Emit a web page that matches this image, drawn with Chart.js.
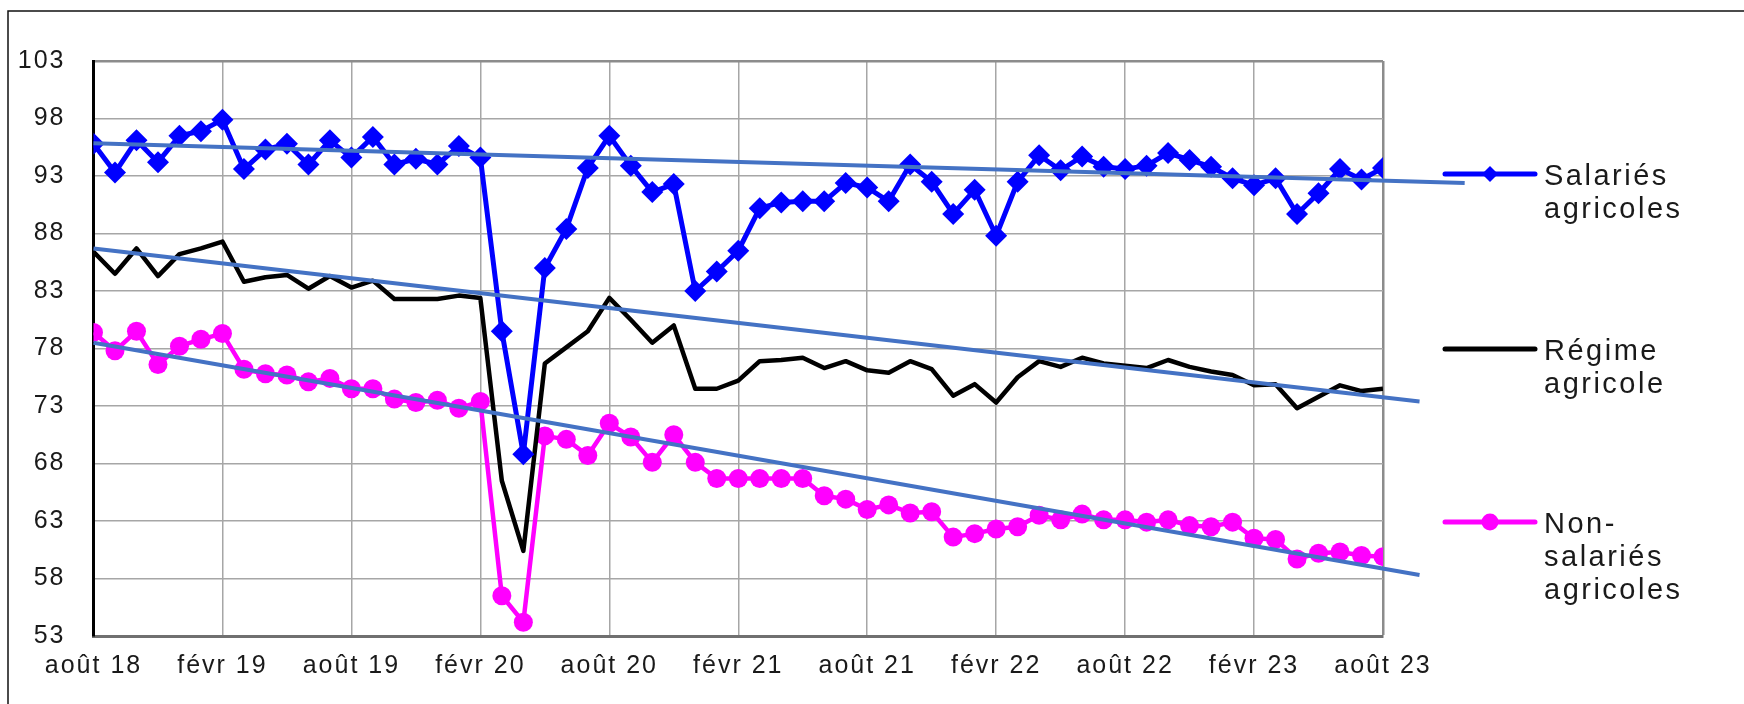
<!DOCTYPE html>
<html>
<head>
<meta charset="utf-8">
<script src="https://cdn.jsdelivr.net/npm/chart.js@4/dist/chart.umd.min.js"></script>
<style>
html,body{margin:0;padding:0;background:#fff}
#boite{width:1744px;height:704px;position:relative}
</style>
</head>
<body>
<div id="boite"><canvas id="chartEmploi"></canvas></div>
<script>
// mois d'août 2018 à août 2023
const nomsMois=['janv','févr','mars','avr','mai','juin','juil','août','sept','oct','nov','déc']
const categories=[]
for(let k=0;k<61;k++){const m=(7+k)%12, a=18+Math.floor((7+k)/12); categories.push(nomsMois[m]+' '+a)}

const salaries=[95.8,93.3,96.1,94.2,96.5,96.9,97.9,93.6,95.3,95.8,
94.0,96.1,94.6,96.4,94.0,94.5,94.0,95.6,94.6,79.5,
68.8,85.0,88.4,93.7,96.5,93.9,91.6,92.3,83.0,84.7,
86.5,90.2,90.7,90.8,90.8,92.4,92.0,90.8,94.0,92.5,
89.7,91.8,87.8,92.5,94.8,93.5,94.7,93.8,93.6,93.9,
95.0,94.4,93.8,92.8,92.2,92.8,89.7,91.5,93.6,92.7,93.7]

const regime=[86.4,84.5,86.7,84.3,86.2,86.7,87.3,83.8,84.2,84.4,
83.2,84.3,83.3,83.9,82.3,82.3,82.3,82.6,82.4,66.5,
60.4,76.7,78.1,79.5,82.4,80.5,78.5,80.0,74.5,74.5,
75.2,76.9,77.0,77.2,76.3,76.9,76.1,75.9,76.9,76.2,
73.9,74.9,73.3,75.5,76.9,76.4,77.2,76.7,76.5,76.3,
77.0,76.4,76.0,75.7,74.8,74.9,72.8,73.8,74.8,74.3,74.5]

const nonSalaries=[79.4,77.8,79.5,76.6,78.2,78.8,79.3,76.2,75.8,75.7,
75.1,75.4,74.5,74.5,73.6,73.3,73.5,72.8,73.4,56.5,
54.2,70.4,70.1,68.7,71.5,70.3,68.1,70.5,68.1,66.7,
66.7,66.7,66.7,66.7,65.2,64.9,64.0,64.4,63.7,63.8,
61.6,61.9,62.3,62.5,63.5,63.1,63.6,63.1,63.1,62.9,
63.1,62.6,62.5,62.9,61.5,61.4,59.7,60.2,60.3,60.0,59.9]

// tendances linéaires (début, fin)
const tendSalX=[0,63.8], tendSal=[95.85,92.4]
const tendRegX=[0,61.7], tendReg=[86.7,73.4]
const tendNonX=[0,61.7], tendNon=[78.5,58.3]

const legendes=[['Salariés','agricoles'],['Régime','agricole'],['Non-','salariés','agricoles']]

const pts=(v)=>v.map((y,i)=>({x:i,y:y}))
const seg=(xs,ys)=>xs.map((x,i)=>({x:x,y:ys[i]}))
const POLICE='"Liberation Sans", Arial, sans-serif'

const espacement={
  id:'espacement',
  beforeLayout(chart){chart.ctx.letterSpacing='2px'},
  beforeDraw(chart){
    const c=chart.ctx
    c.save()
    c.fillStyle='#fff'; c.fillRect(0,0,chart.width,chart.height)
    c.strokeStyle='#111'; c.lineWidth=1.5
    c.strokeRect(8,11,2000,2000)
    c.restore()
    c.letterSpacing='2px'
  }
}

const legendeDroite={
  id:'legendeDroite',
  afterDraw(chart){
    const c=chart.ctx, a=chart.chartArea
    const x0=a.right+62, x1=a.right+152, xm=a.right+107, xt=a.right+161
    const lignes=[174,349,522]
    const couleurs=['#0000FF','#000000','#FF00FF']
    c.save()
    lignes.forEach((y,k)=>{
      c.strokeStyle=couleurs[k]; c.lineWidth=5; c.lineCap='round'
      c.beginPath(); c.moveTo(x0,y); c.lineTo(x1,y); c.stroke()
      c.fillStyle=couleurs[k]
      if(k===0){c.beginPath();c.moveTo(xm,y-8);c.lineTo(xm+8,y);c.lineTo(xm,y+8);c.lineTo(xm-8,y);c.closePath();c.fill()}
      if(k===2){c.beginPath();c.arc(xm,y,8.5,0,Math.PI*2);c.fill()}
      c.fillStyle='#1a1a1a'; c.font='29px '+POLICE; c.letterSpacing='2.5px'
      c.textBaseline='alphabetic'; c.textAlign='left'
      legendes[k].forEach((t,j)=>c.fillText(t,xt,y+11+j*33))
    })
    c.restore()
  }
}

const chartEmploi=new Chart(document.getElementById('chartEmploi'),{
  type:'line',
  data:{
    datasets:[
      {label:'tendance salariés',data:seg(tendSalX,tendSal),borderColor:'#4472C4',borderWidth:4,pointRadius:0,clip:false,order:0},
      {label:'tendance régime',data:seg(tendRegX,tendReg),borderColor:'#4472C4',borderWidth:4,pointRadius:0,clip:false,order:0},
      {label:'tendance non-salariés',data:seg(tendNonX,tendNon),borderColor:'#4472C4',borderWidth:4,pointRadius:0,clip:false,order:0},
      {label:'Salariés agricoles',data:pts(salaries),borderColor:'#0000FF',backgroundColor:'#0000FF',borderWidth:5,
        pointStyle:'rectRot',pointRadius:11,pointBorderWidth:0,borderJoinStyle:'round',order:1},
      {label:'Régime agricole',data:pts(regime),borderColor:'#000000',borderWidth:4.5,pointRadius:0,borderJoinStyle:'round',order:2},
      {label:'Non-salariés agricoles',data:pts(nonSalaries),borderColor:'#FF00FF',backgroundColor:'#FF00FF',borderWidth:4.5,
        pointStyle:'circle',pointRadius:9.5,pointBorderWidth:0,borderJoinStyle:'round',order:3}
    ]
  },
  options:{
    responsive:true,maintainAspectRatio:false,animation:false,
    layout:{padding:{left:0,top:61,right:361,bottom:0}},
    plugins:{legend:{display:false},tooltip:{enabled:false}},
    elements:{line:{tension:0}},
    scales:{
      x:{type:'linear',min:0,max:60,
        afterFit:(s)=>{s.height=68},
        grid:{color:(c)=>c.tick&&c.tick.value===60?'#8c8c8c':'#a6a6a6',lineWidth:(c)=>c.tick&&c.tick.value===60?2.5:1.5,drawTicks:false},
        border:{color:'#707070',width:3},
        ticks:{stepSize:6,maxTicksLimit:20,maxRotation:0,autoSkip:false,padding:15,color:'#1a1a1a',
          font:{family:POLICE,size:25},callback:(v)=>categories[v]}
      },
      y:{min:53,max:103,
        afterFit:(s)=>{s.width=93.5},
        grid:{color:(c)=>c.tick&&c.tick.value===103?'#8c8c8c':'#a6a6a6',lineWidth:(c)=>c.tick&&c.tick.value===103?2.5:1.5,drawTicks:false},
        border:{color:'#000',width:3},
        ticks:{stepSize:5,padding:28,color:'#1a1a1a',font:{family:POLICE,size:25}}
      }
    }
  },
  plugins:[espacement,legendeDroite]
})
</script>
</body>
</html>
